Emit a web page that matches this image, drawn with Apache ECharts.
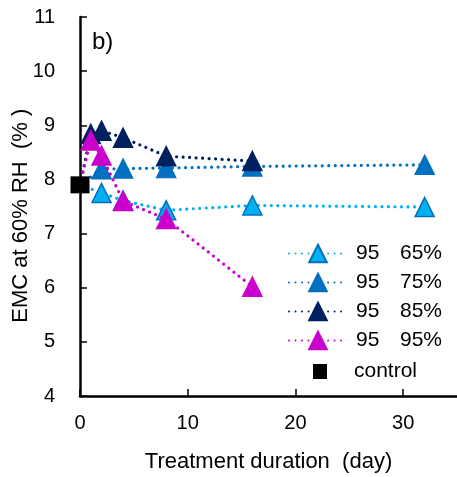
<!DOCTYPE html>
<html>
<head>
<meta charset="utf-8">
<script src="https://cdn.jsdelivr.net/npm/echarts@6/dist/echarts.min.js"></script>
<style>html,body{margin:0;padding:0;background:#fff}#c{width:457px;height:477px}</style>
</head>
<body>
<div id="c"></div>
<script>
var names = ['95   65%', '95   75%', '95   85%', '95   95%'];
var days65 = [0, 2, 4, 8, 16, 32];
var v65 = [7.9, 7.75, 7.61, 7.43, 7.52, 7.49];
var days75 = [0, 2, 4, 8, 16, 32];
var v75 = [7.9, 8.19, 8.2, 8.21, 8.24, 8.27];
var days85 = [0, 1, 2, 4, 8, 16];
var v85 = [7.9, 8.84, 8.9, 8.77, 8.43, 8.34];
var days95 = [0, 1, 2, 4, 8, 16];
var v95 = [7.9, 8.72, 8.44, 7.6, 7.27, 6.02];
var controlDay = [0];
var controlVal = [7.9];
var xTicks = [0, 10, 20, 30];
var yTicks = [4, 5, 6, 7, 8, 9, 10, 11];

var FONT = '"Liberation Sans", Arial, sans-serif';
var fills = ['#00B0F0', '#0070C0', '#002060', '#CC00CC'];
var borders = ['#0070C0', '#0070C0', '#002060', '#CC00CC'];
var allDays = [days65, days75, days85, days95];
var allVals = [v65, v75, v85, v95];

function buildData(d, v) {
  return d.map(function (x, i) {
    var item = { value: [x, v[i]] };
    if (x === 0) item.symbol = 'none';
    return item;
  });
}

var series = names.map(function (n, k) {
  return {
    name: n,
    type: 'line',
    data: buildData(allDays[k], allVals[k]),
    symbol: 'triangle',
    symbolSize: 19,
    z: 2 + k,
    lineStyle: { color: fills[k], width: 3.2, type: [0.01, 6.5], cap: 'round' },
    itemStyle: { color: fills[k], borderColor: borders[k], borderWidth: 1.5, opacity: 1 },
    emphasis: { disabled: true },
    animation: false
  };
});
series.push({
  name: 'control',
  type: 'scatter',
  data: controlDay.map(function (x, i) { return [x, controlVal[i]]; }),
  symbol: 'rect',
  symbolSize: [19, 17],
  z: 10,
  itemStyle: { color: '#000', opacity: 1 },
  emphasis: { disabled: true },
  animation: false
});

var chart = echarts.init(document.getElementById('c'), null, { renderer: 'canvas' });
chart.setOption({
  backgroundColor: '#fff',
  animation: false,
  grid: { left: 80, right: 0, top: 17, bottom: 81, containLabel: false, outerBoundsMode: 'none' },
  xAxis: {
    type: 'value', min: 0, max: 35, interval: 10,
    name: 'Treatment duration  (day)', nameLocation: 'middle', nameGap: 55,
    nameMoveOverlap: false,
    nameTextStyle: { fontFamily: FONT, fontSize: 22, color: '#000' },
    axisLine: { lineStyle: { color: '#000', width: 2.5 } },
    axisTick: { inside: true, length: 7, lineStyle: { color: '#000', width: 1.5 } },
    axisLabel: { showMaxLabel: false, margin: 17, fontFamily: FONT, fontSize: 20, color: '#000',
      formatter: function (v) { return xTicks.indexOf(v) >= 0 ? String(v) : ''; } },
    splitLine: { show: false }
  },
  yAxis: {
    type: 'value', min: 4, max: 11, interval: 1,
    name: 'EMC at 60% RH  (% )   ', nameLocation: 'middle', nameGap: 48,
    nameMoveOverlap: false,
    nameTextStyle: { fontFamily: FONT, fontSize: 22, color: '#000' },
    axisLine: { lineStyle: { color: '#000', width: 2.5 } },
    axisTick: { inside: true, length: 7, lineStyle: { color: '#000', width: 1.5 } },
    axisLabel: { margin: 25, fontFamily: FONT, fontSize: 20, color: '#000',
      formatter: function (v) { return yTicks.indexOf(v) >= 0 ? String(v) : ''; } },
    splitLine: { show: false }
  },
  legend: [{
    data: names,
    orient: 'vertical',
    left: 288, top: 243,
    itemWidth: 58, itemHeight: 22, itemGap: 8,
    padding: 0,
    selectedMode: false,
    formatter: function (n) {
      var p = n.split(/\s+/);
      return '{a|' + p[0] + '}{b|' + p[1] + '}';
    },
    textStyle: {
      fontFamily: FONT, fontSize: 21, color: '#000',
      rich: {
        a: { fontFamily: FONT, fontSize: 21, color: '#000', width: 44, padding: [0, 0, 0, 4] },
        b: { fontFamily: FONT, fontSize: 21, color: '#000' }
      }
    }
  }, {
    data: ['control'],
    orient: 'vertical',
    left: 313, top: 361,
    itemWidth: 14, itemHeight: 15,
    padding: 0,
    selectedMode: false,
    icon: 'rect',
    itemStyle: { color: '#000', opacity: 1 },
    formatter: function (n) { return '{a|' + n + '}'; },
    textStyle: {
      fontFamily: FONT, fontSize: 21, color: '#000',
      rich: { a: { fontFamily: FONT, fontSize: 21, color: '#000', padding: [0, 0, 0, 22] } }
    }
  }],
  graphic: [{
    type: 'text', left: 92, top: 30,
    style: { text: 'b)', font: '24px ' + FONT, fill: '#000' }
  }],
  series: series
});
</script>
</body>
</html>
